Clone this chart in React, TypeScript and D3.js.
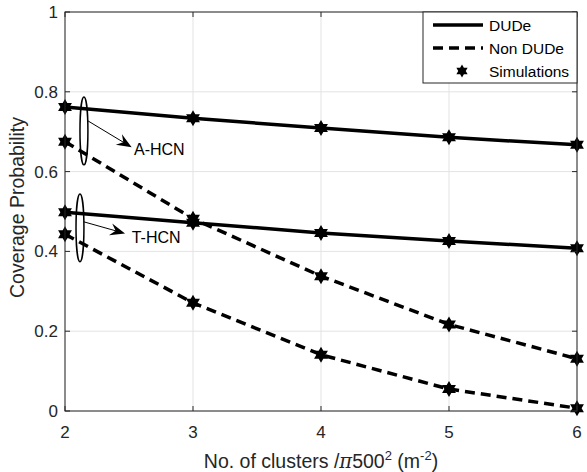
import React from "react";
import * as d3 from "d3";

// Number of clusters per π·500² m²
const clusters = [2, 3, 4, 5, 6];

// Coverage probability series
const dudeAHCN = [0.762, 0.734, 0.709, 0.686, 0.667];
const nonDudeAHCN = [0.675, 0.482, 0.338, 0.217, 0.131];
const dudeTHCN = [0.498, 0.472, 0.446, 0.426, 0.408];
const nonDudeTHCN = [0.443, 0.271, 0.141, 0.055, 0.007];

const xTicks = [2, 3, 4, 5, 6];
const yTicks = [0, 0.2, 0.4, 0.6, 0.8, 1];

const legendLabels = ["DUDe", "Non DUDe", "Simulations"];

// Ellipse callouts grouping the curve pairs (data units)
const callouts = [
  { label: "A-HCN", cx: 2.148, cy: 0.702, rx: 0.031, ry: 0.085, from: [2.18, 0.727], to: [2.521, 0.661], at: [2.539, 0.642] },
  { label: "T-HCN", cx: 2.117, cy: 0.459, rx: 0.031, ry: 0.085, from: [2.148, 0.474], to: [2.469, 0.445], at: [2.521, 0.422] },
];

const W = 587;
const H = 472;
const M = { left: 65, right: 10, top: 12, bottom: 61 };
const FONT = "'Liberation Sans', Arial, Helvetica, sans-serif";
const AX = "#262626";

function hexagram(cx: number, cy: number, R: number) {
  const pts: [number, number][] = [];
  for (let i = 0; i < 12; i++) {
    const a = ((-90 + i * 30) * Math.PI) / 180;
    const r = i % 2 === 0 ? R : R / Math.sqrt(3);
    pts.push([cx + r * Math.cos(a), cy + r * Math.sin(a)]);
  }
  return "M" + pts.map((p) => p.join(",")).join("L") + "Z";
}

function arrowHead(x1: number, y1: number, x2: number, y2: number, len = 15, half = 6) {
  const dx = x2 - x1;
  const dy = y2 - y1;
  const L = Math.hypot(dx, dy);
  const ux = dx / L;
  const uy = dy / L;
  const px = -uy;
  const py = ux;
  const bx = x2 - ux * len;
  const by = y2 - uy * len;
  const nx = x2 - ux * len * 0.65;
  const ny = y2 - uy * len * 0.65;
  return `M${x2},${y2}L${bx + px * half},${by + py * half}L${nx},${ny}L${bx - px * half},${by - py * half}Z`;
}

export default function App() {
  const x = d3.scaleLinear().domain([2, 6]).range([M.left, W - M.right]);
  const y = d3.scaleLinear().domain([0, 1]).range([H - M.bottom, M.top]);

  const line = d3
    .line<number>()
    .x((_, i) => x(clusters[i]))
    .y((d) => y(d));

  const series = [
    { values: dudeAHCN, dashed: false },
    { values: nonDudeAHCN, dashed: true },
    { values: dudeTHCN, dashed: false },
    { values: nonDudeTHCN, dashed: true },
  ];

  const x0 = x.range()[0];
  const x1 = x.range()[1];
  const y0 = y.range()[0];
  const y1 = y.range()[1];
  const tickLen = 5;

  const lgX = 423;
  const lgY = 12;
  const lgW = 154;
  const lgH = 71;

  return (
    <svg
      width={W}
      height={H}
      style={{ position: "absolute", left: 0, top: 0, background: "#fff" }}
      fontFamily={FONT}
    >
      <rect x={0} y={0} width={W} height={H} fill="#fff" />
      {/* grid */}
      <g stroke="#e3e3e3" strokeWidth={1}>
        {xTicks.map((t) => (
          <line key={"gx" + t} x1={x(t)} x2={x(t)} y1={y0} y2={y1} />
        ))}
        {yTicks.map((t) => (
          <line key={"gy" + t} x1={x0} x2={x1} y1={y(t)} y2={y(t)} />
        ))}
      </g>

      {/* series lines */}
      {series.map((s, i) => (
        <path
          key={"s" + i}
          d={line(s.values) || ""}
          fill="none"
          stroke="#000"
          strokeWidth={3.5}
          strokeDasharray={s.dashed ? "10,6" : undefined}
        />
      ))}

      {/* simulation markers */}
      {series.map((s, i) =>
        s.values.map((v, j) => (
          <path key={`m${i}-${j}`} d={hexagram(x(clusters[j]), y(v), 8)} fill="#000" />
        ))
      )}

      {/* axes box with inward ticks */}
      <g stroke={AX} strokeWidth={1} fill="none">
        <rect x={x0} y={y1} width={x1 - x0} height={y0 - y1} />
        {xTicks.map((t) => (
          <g key={"tx" + t}>
            <line x1={x(t)} x2={x(t)} y1={y0} y2={y0 - tickLen} />
            <line x1={x(t)} x2={x(t)} y1={y1} y2={y1 + tickLen} />
          </g>
        ))}
        {yTicks.map((t) => (
          <g key={"ty" + t}>
            <line x1={x0} x2={x0 + tickLen} y1={y(t)} y2={y(t)} />
            <line x1={x1} x2={x1 - tickLen} y1={y(t)} y2={y(t)} />
          </g>
        ))}
      </g>

      {/* tick labels */}
      <g fill={AX} fontSize={17}>
        {xTicks.map((t) => (
          <text key={"lx" + t} x={x(t)} y={y0 + 27} textAnchor="middle">
            {d3.format("d")(t)}
          </text>
        ))}
        {yTicks.map((t) => (
          <text key={"ly" + t} x={x0 - 7} y={y(t) + 6} textAnchor="end">
            {t === 0 || t === 1 ? String(t) : d3.format(".1f")(t)}
          </text>
        ))}
      </g>

      {/* axis labels */}
      <text
        x={(x0 + x1) / 2}
        y={468}
        textAnchor="middle"
        fontSize={19.5}
        fill={AX}
      >
        No. of clusters /<tspan fontFamily="'DejaVu Serif', serif" fontStyle="italic">π</tspan>500
        <tspan dy={-8} fontSize={13}>2</tspan>
        <tspan dy={8}> (m</tspan>
        <tspan dy={-8} fontSize={13}>-2</tspan>
        <tspan dy={8}>)</tspan>
      </text>
      <text
        transform={`translate(24,${(y0 + y1) / 2 - 4}) rotate(-90)`}
        textAnchor="middle"
        fontSize={19.5}
        fill={AX}
      >
        Coverage Probability
      </text>

      {/* callouts */}
      {callouts.map((c) => {
        const fx = x(c.from[0]);
        const fy = y(c.from[1]);
        const tx = x(c.to[0]);
        const ty = y(c.to[1]);
        const L = Math.hypot(tx - fx, ty - fy);
        return (
          <g key={c.label}>
            <ellipse
              cx={x(c.cx)}
              cy={y(c.cy)}
              rx={x(2 + c.rx) - x(2)}
              ry={y(0) - y(c.ry)}
              fill="none"
              stroke="#000"
              strokeWidth={1.5}
            />
            <line
              x1={fx}
              y1={fy}
              x2={tx - ((tx - fx) / L) * 8}
              y2={ty - ((ty - fy) / L) * 8}
              stroke="#000"
              strokeWidth={1}
            />
            <path d={arrowHead(fx, fy, tx, ty)} fill="#000" />
            <text x={x(c.at[0])} y={y(c.at[1])} fontSize={16} fill="#000">
              {c.label}
            </text>
          </g>
        );
      })}

      {/* legend */}
      <g>
        <rect x={lgX} y={lgY} width={lgW} height={lgH} fill="#fff" stroke={AX} strokeWidth={1} />
        {legendLabels.map((lab, i) => {
          const ly = lgY + 13 + i * 23;
          return (
            <g key={lab}>
              {i < 2 ? (
                <line
                  x1={lgX + 10}
                  x2={lgX + 60}
                  y1={ly}
                  y2={ly}
                  stroke="#000"
                  strokeWidth={3.5}
                  strokeDasharray={i === 1 ? "10,6" : undefined}
                />
              ) : (
                <path d={hexagram(lgX + 39, ly, 6.5)} fill="#000" />
              )}
              <text x={lgX + 66} y={ly + 5.5} fontSize={15.5} fill="#000">
                {lab}
              </text>
            </g>
          );
        })}
      </g>
    </svg>
  );
}
